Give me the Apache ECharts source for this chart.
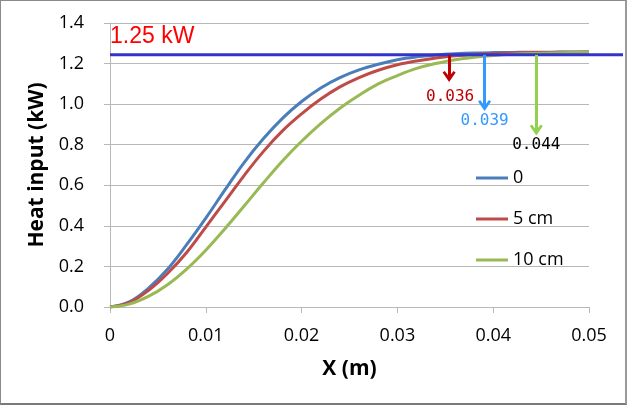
<!DOCTYPE html>
<html>
<head>
<meta charset="utf-8">
<script src="https://cdn.jsdelivr.net/npm/echarts@6/dist/echarts.min.js"></script>
<style>
html,body{margin:0;padding:0;background:#fff;}
#c{position:absolute;left:0;top:0;width:627px;height:405px;}
#frame{position:absolute;left:0;top:0;width:627px;height:405px;box-sizing:border-box;border:1px solid #8a8a8a;border-bottom:2px solid #7a7a7a;border-right:2px solid #9a9a9a;pointer-events:none;}
</style>
</head>
<body>
<div id="c"></div>
<div id="frame"></div>
<script>
// ---- data ----
const xValues = [0,0.002,0.004,0.006,0.008,0.010,0.012,0.014,0.016,0.018,0.020,0.022,0.024,0.026,0.028,0.030,0.032,0.034,0.036,0.038,0.040,0.042,0.044,0.046,0.048,0.050];
const series0 = [0,0.025,0.092,0.186,0.307,0.438,0.577,0.712,0.829,0.930,1.013,1.080,1.131,1.169,1.197,1.219,1.233,1.242,1.248,1.252,1.254,1.255,1.256,1.256,1.257,1.257];
const series5 = [0,0.022,0.081,0.165,0.269,0.394,0.521,0.648,0.766,0.868,0.952,1.025,1.085,1.131,1.167,1.194,1.213,1.227,1.238,1.245,1.249,1.252,1.254,1.255,1.256,1.257];
const series10 = [0,0.014,0.052,0.110,0.187,0.280,0.386,0.498,0.611,0.720,0.817,0.904,0.980,1.044,1.100,1.141,1.176,1.200,1.219,1.231,1.240,1.246,1.250,1.252,1.254,1.256];
const seriesNames = ['0','5 cm','10 cm'];
const yTicks = [0,0.2,0.4,0.6,0.8,1.0,1.2,1.4];
const xTicks = [0,0.01,0.02,0.03,0.04,0.05];
const refLevel = 1.243;
const refLabel = '1.25 kW';
const refLabelY = 1.334;
const arrowX = [0.0354,0.0391,0.0445];
const arrowEndY = [1.136,0.993,0.873];
const arrowTexts = ['0.036','0.039','0.044'];
const arrowTextX = [0.0355,0.0391,0.0445];
const arrowTextY = [1.037,0.920,0.799];

// ---- styles ----
const lineColors = ['#4A7EBB','#BE4B48','#98B954'];
const arrowColors = ['#C00000','#3399FF','#92D050'];
const arrowTextColors = ['#C00000','#3399FF','#000000'];
const gridColor = '#B8B8B8';
const chevron = 'path://M5,0 L10,7 L8.4,8.1 L5,4 L1.6,8.1 L0,7 Z';

const chart = echarts.init(document.getElementById('c'), null, {renderer:'canvas'});
const pairs = arr => xValues.map((x,i)=>[x,arr[i]]);
const dataSets = [series0, series5, series10];

const curveSeries = dataSets.map((d,i)=>({
  name: seriesNames[i], type:'line', xAxisIndex:0, yAxisIndex:0,
  data: pairs(d), smooth:0.4, showSymbol:false, symbol:'none',
  lineStyle:{color:lineColors[i], width:3}, itemStyle:{color:lineColors[i]},
  z:2, silent:true
}));

const annot = {
  type:'line', name:'annot', xAxisIndex:0, yAxisIndex:0, data:[], silent:true, z:5,
  markLine:{
    silent:true, animation:false,
    symbol:['none', chevron], symbolSize:[13,11],
    label:{show:false},
    data: arrowX.map((x,i)=>[
      {coord:[x,refLevel], lineStyle:{color:arrowColors[i], width:3, type:'solid'}, itemStyle:{color:arrowColors[i]}},
      {coord:[x,arrowEndY[i]]}
    ])
  },
  markPoint:{
    silent:true, animation:false, symbol:'circle', symbolSize:0,
    data: arrowTexts.map((t,i)=>({
      coord:[arrowTextX[i], arrowTextY[i]], value:t,
      label:{show:true, position:'inside', formatter:t, color:arrowTextColors[i],
        fontFamily:'DejaVu Sans Mono', fontSize:16}
    })).concat([{
      coord:[0, refLabelY], value:refLabel,
      label:{show:true, position:'right', distance:0, formatter:refLabel, color:'#FF0000',
        fontFamily:'Liberation Sans', fontSize:23}
    }])
  }
};

const refSeries = {
  type:'line', name:'ref', xAxisIndex:1, yAxisIndex:1,
  data:[[0,refLevel],[1,refLevel]], showSymbol:false, symbol:'none',
  lineStyle:{color:'#3333CC', width:3}, z:4, silent:true
};

const option = {
  animation:false,
  backgroundColor:'#ffffff',
  textStyle:{fontFamily:'Open Sans'},
  grid:[
    {left:110, right:38, top:23, bottom:98, containLabel:false},
    {left:110, right:4, top:23, bottom:98, containLabel:false}
  ],
  legend:{
    data:seriesNames.map((n,i)=>({name:n, icon:'rect', itemStyle:{color:lineColors[i]}})),
    orient:'vertical', left:471, top:164,
    itemWidth:32, itemHeight:3, itemGap:23,
    textStyle:{fontFamily:'Open Sans', fontSize:18, color:'#000', lineHeight:18},
    selectedMode:false
  },
  xAxis:[
    {type:'value', gridIndex:0, min:0, max:0.05, interval:0.01,
     name:'X (m)', nameLocation:'middle', nameGap:52,
     nameTextStyle:{fontFamily:'Open Sans', fontWeight:'bold', fontSize:21, color:'#000'},
     axisLine:{show:true, lineStyle:{color:gridColor, width:1}},
     axisTick:{show:true, inside:false, length:6, lineStyle:{color:gridColor}},
     axisLabel:{margin:20, fontFamily:'Open Sans', fontSize:18, color:'#000',
       formatter:v=>{const m = xTicks.find(t=>Math.abs(t-v)<1e-9); return m===0?'0':String(+m.toFixed(2));}},
     splitLine:{show:false}},
    {type:'value', gridIndex:1, min:0, max:1, show:false}
  ],
  yAxis:[
    {type:'value', gridIndex:0, min:0, max:1.4, interval:0.2,
     name:'Heat input (kW)', nameLocation:'middle', nameGap:62,
     nameTextStyle:{fontFamily:'Open Sans', fontWeight:'bold', fontSize:21, color:'#000'},
     axisLine:{show:true, lineStyle:{color:gridColor, width:1}},
     axisTick:{show:true, inside:false, length:6, lineStyle:{color:gridColor}},
     axisLabel:{margin:26, fontFamily:'Open Sans', fontSize:18, color:'#000',
       formatter:v=>{const m = yTicks.find(t=>Math.abs(t-v)<1e-9); return m.toFixed(1);}},
     splitLine:{show:true, lineStyle:{color:gridColor, width:1}}},
    {type:'value', gridIndex:1, min:0, max:1.4, show:false}
  ],
  series: curveSeries.concat([refSeries, annot])
};
chart.setOption(option);
</script>
</body>
</html>
